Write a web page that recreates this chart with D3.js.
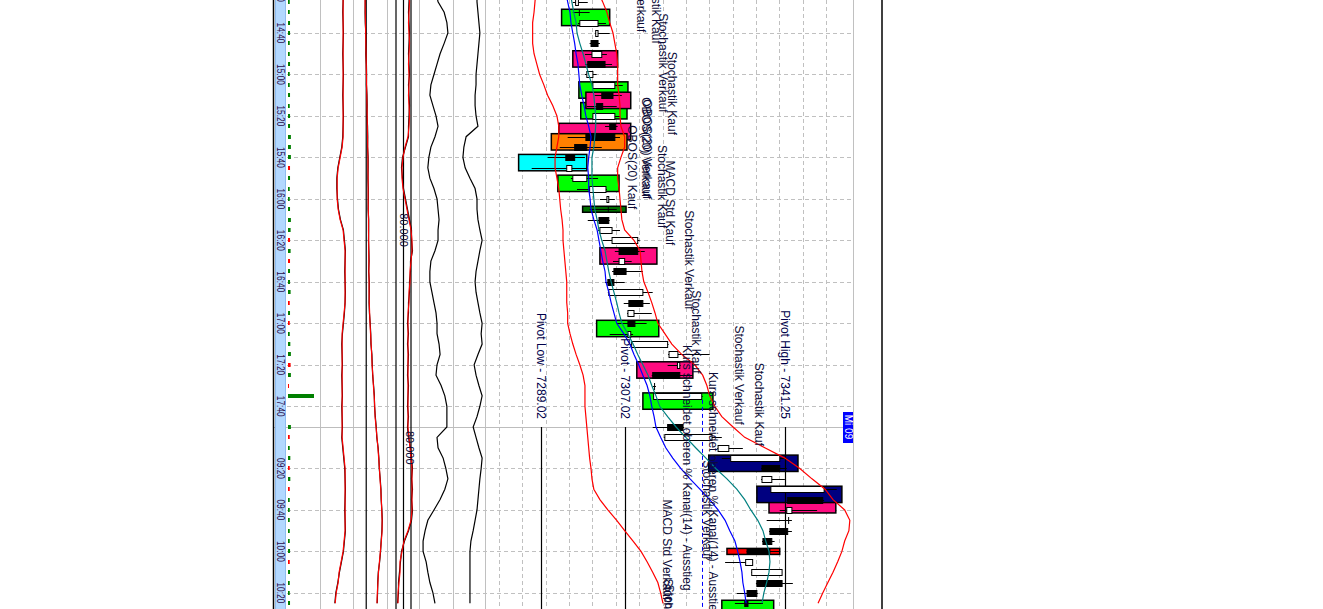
<!DOCTYPE html>
<html><head><meta charset="utf-8">
<script src="https://cdn.jsdelivr.net/npm/d3@7"></script>
<style>html,body{margin:0;padding:0;background:#fff;}svg{display:block;}</style>
</head><body>
<svg id="c" width="1323" height="609"></svg>
<script>
// ---------------- DATA ----------------
const timeline = ["14:20","14:25","14:30","14:35","14:40","14:45","14:50","14:55","15:00","15:05","15:10","15:15","15:20","15:25","15:30","15:35","15:40","15:45","15:50","15:55","16:00","16:05","16:10","16:15","16:20","16:25","16:30","16:35","16:40","16:45","16:50","16:55","17:00","17:05","17:10","17:15","17:20","17:25","17:30","17:35","17:40","17:45",
 "09:00","09:05","09:10","09:15","09:20","09:25","09:30","09:35","09:40","09:45","09:50","09:55","10:00","10:05","10:10","10:15","10:20","10:25","10:30","10:35"];
const tickLabels = ["14:20","14:40","15:00","15:20","15:40","16:00","16:20","16:40","17:00","17:20","17:40","09:20","09:40","10:00","10:20"];
const sessionStart = "09:00";
const dayLabel = "Mi 09";
const priceTicks = [7280,7285,7290,7295,7300,7305,7310,7315,7320,7325,7330,7335,7340,7345,7350];

const candleTimes = ["14:25","14:30","14:35","14:40","14:45","14:50","14:55","15:00","15:05","15:10","15:15","15:20","15:25","15:30","15:35","15:40","15:45","15:50","15:55","16:00","16:05","16:10","16:15","16:20","16:25","16:30","16:35","16:40","16:45","16:50","16:55","17:00","17:05","17:10","17:15","17:20","17:25","17:30","17:35",
 "09:00","09:05","09:10","09:15","09:20","09:25","09:30","09:35","09:40","09:45","09:50","09:55","10:00","10:05","10:10","10:15","10:20","10:25"];
const opens  = [7296.4,7297.4,7297.3,7300.7,7301.2,7299.9,7302.7,7298.8,7300.1,7304.4,7302.2,7300.1,7305.0,7304.8,7298.8,7296.2,7294.5,7295.8,7299.4,7303.1,7303.6,7303.5,7301.6,7304.2,7309.7,7305.7,7307.2,7304.6,7303.5,7310.8,7307.6,7309.1,7307.6,7308.4,7316.4,7318.2,7318.7,7313.3,7313.1,
 7319.4,7315.5,7326.9,7329.6,7340.1,7336.3,7338.2,7349.3,7341.6,7342.0,7341.8,7338.4,7338.0,7332.8,7334.1,7340.6,7335.2,7333.3];
const highs  = [7299.0,7299.4,7302.9,7303.7,7301.6,7303.1,7304.2,7300.9,7306.5,7306.3,7305.2,7305.9,7305.4,7305.9,7302.0,7298.4,7298.8,7301.2,7303.1,7304.8,7305.2,7303.7,7305.9,7310.1,7311.2,7308.4,7310.8,7306.9,7312.9,7312.3,7312.7,7311.6,7308.7,7316.3,7325.1,7318.9,7321.5,7313.6,7323.6,
 7319.6,7327.7,7332.2,7341.6,7341.6,7341.2,7352.3,7349.6,7348.1,7342.7,7342.7,7339.0,7340.1,7334.3,7340.6,7342.9,7335.4,7336.5];
const lows   = [7295.8,7295.8,7296.9,7300.5,7299.4,7298.4,7298.4,7298.4,7300.0,7300.5,7298.8,7300.0,7302.7,7294.7,7293.0,7290.4,7287.0,7295.4,7296.7,7301.6,7299.4,7299.0,7301.2,7302.2,7304.8,7304.4,7304.2,7302.7,7303.3,7306.7,7307.4,7305.2,7303.7,7308.0,7316.2,7316.1,7312.7,7312.9,7313.0,
 7312.9,7315.3,7326.7,7327.7,7336.1,7336.1,7338.0,7341.6,7340.1,7337.3,7337.8,7336.3,7333.0,7328.4,7334.0,7335.0,7330.9,7330.5];
const closes = [7297.0,7297.2,7301.2,7301.2,7299.7,7302.0,7299.0,7300.1,7304.8,7302.0,7300.9,7304.8,7303.7,7298.6,7296.2,7294.3,7295.6,7298.8,7302.9,7303.5,7303.4,7301.4,7304.2,7309.7,7305.7,7306.9,7304.6,7303.3,7310.8,7307.8,7308.9,7307.6,7308.2,7316.1,7318.3,7318.7,7312.9,7313.4,7323.4,
 7316.1,7325.6,7329.2,7340.1,7336.3,7338.4,7349.6,7341.8,7342.7,7342.1,7338.0,7336.5,7333.1,7334.3,7340.6,7335.2,7333.1,7332.6];
const volumes = [6000,6000,7000,7000,6000,6000,7000,6000,6000,7000,6000,7000,7000,10000,10000,10000,7000,7000,6000,6000,7000,10000,9000,7000,9000,7000,7000,7000,9000,6000,7000,6000,6000,8000,10000,9000,10000,3000,90000,
 10000,6000,6000,8000,6000,8000,6000,6000,6000,6000,6000,6000,7000,6000,7000,6000,6000,7000];
const volumeUp = [1,1,1,1,1,1,1,1,1,1,1,1,1,1,1,1,0,1,1,1,1,1,1,0,1,0,1,1,1,0,1,0,1,1,1,0,1,0,1,
 1,0,1,1,0,1,0,1,1,1,1,1,1,0,1,1,1,1];

// line series: 14:20 .. 10:25
const seriesTimes = timeline.slice(0, 60);
const maBlue = [7294.3,7294.7,7295.2,7295.4,7295.8,7296.2,7296.5,7296.9,7297.1,7297.3,7297.7,7298.2,7298.6,7299.2,7299.7,7299.5,7299.2,7299.0,7299.2,7299.2,7299.5,7299.7,7300.3,7301.0,7301.4,7301.8,7302.2,7302.7,7302.9,7303.5,7304.0,7304.6,7305.2,7306.7,7308.0,7308.9,7309.9,7310.8,7311.7,7312.3,7312.7,7313.2,7313.6,7314.6,7315.7,7317.2,7318.9,7320.9,7323.0,7325.1,7326.9,7328.4,7329.4,7330.5,7331.1,7331.6,7332.0,7332.2,7332.6,7332.9];
const maTeal = [7295.2,7295.6,7296.0,7296.5,7296.7,7297.3,7298.0,7298.6,7299.2,7299.9,7300.3,7300.5,7300.7,7300.7,7300.5,7300.3,7299.9,7299.9,7299.9,7300.1,7300.3,7300.5,7301.0,7301.4,7302.0,7302.7,7303.1,7303.5,7304.0,7304.6,7305.2,7305.7,7306.3,7307.6,7308.7,7309.7,7310.8,7311.9,7312.7,7313.6,7314.4,7316.1,7317.9,7320.0,7322.1,7324.3,7326.4,7328.8,7330.9,7332.6,7333.9,7335.4,7336.5,7337.1,7337.8,7338.0,7337.8,7337.3,7336.7,7336.3];
const bandUpper = [7301.2,7302.2,7303.1,7303.7,7304.4,7304.8,7305.2,7305.4,7305.4,7305.4,7305.7,7305.9,7305.9,7306.1,7306.9,7306.9,7306.1,7305.4,7305.4,7305.7,7305.9,7306.1,7306.3,7306.9,7308.9,7310.2,7310.4,7310.6,7311.0,7311.9,7312.7,7313.4,7314.0,7315.5,7317.0,7319.1,7321.9,7323.6,7324.5,7325.1,7326.2,7327.7,7330.1,7332.6,7336.9,7341.2,7344.4,7347.0,7349.8,7351.5,7354.0,7355.1,7354.9,7354.0,7353.4,7352.5,7351.5,7350.4,7349.3,7348.3];
const bandLower = [7287.9,7287.7,7287.5,7287.2,7287.2,7287.2,7287.5,7288.1,7288.7,7289.6,7290.4,7291.5,7292.4,7292.8,7292.8,7292.4,7292.0,7292.0,7292.4,7292.8,7293.0,7293.2,7293.5,7293.7,7293.7,7293.9,7294.1,7294.3,7294.5,7294.5,7294.5,7294.7,7294.7,7295.2,7295.8,7296.5,7297.3,7298.0,7298.4,7298.4,7298.4,7298.6,7298.8,7299.0,7299.2,7299.4,7299.7,7299.9,7300.3,7301.6,7303.3,7305.2,7306.9,7308.7,7310.4,7311.7,7312.9,7314.0,7314.6,7315.1];

// sub panels
const oscB_red   = [70,70,70,70,70,70,70,70,70,70,70,70,70,70,70,67,61,55,52,52,52,55,61,70,73,76,76,76,76,76,76,73,70,67,67,67,67,67,67,67,67,67,67,67,70,73,76,76,76,76,76,76,76,73,70,64,58,55,49,46];
const oscB_black = [71,70,69,70,71,70,69,70,71,70,69,70,71,70,69,66,60,54,51,51,53,56,62,71,74,77,76,75,76,77,76,74,71,68,66,67,68,66,67,68,66,67,68,66,69,72,75,76,77,76,75,76,77,74,71,65,59,54,48,45];
const oscC_red   = [-6,-6,-5,-4,-3,-2,-1,0,1,2,3,4,5,6,7,8,9,9,10,10,10,11,12,12,13,13,14,14,15,15,16,18,20,23,26,29,31,35,38,42,45,47,52,57,62,66,70,73,77,80,82,84,84,80,75,70,65,62,59,57];
const oscC_black = [-4,-5,-6,-5,-2,-1,-2,1,2,1,4,5,4,7,8,7,10,10,9,11,11,10,13,13,12,14,15,13,16,16,15,17,21,24,25,30,32,34,39,43,44,48,53,56,63,67,69,74,78,79,83,85,83,79,76,71,64,61,60,58];
const oscC_levels = [0];
const oscD_red   = [72,74,72,70,72,74,72,70,72,72,70,72,74,72,68,56,48,44,44,48,56,64,72,80,84,84,80,76,76,72,72,68,68,68,68,68,68,68,68,68,68,68,68,72,76,80,84,84,84,84,84,80,68,52,44,36,36,32,28,28];
const oscD_black = [74,72,70,72,74,72,70,72,74,70,72,74,72,70,70,58,46,42,46,50,58,66,74,82,82,86,78,78,74,74,70,70,66,70,66,70,68,66,70,68,66,70,66,70,78,82,86,82,86,82,86,82,70,54,42,38,34,30,30,26];
const oscD_levels = [20,50,80];
const oscD_labels = [["80.000",36,"16:15"],["80.000",60,"09:10"]];
const oscE = [50,56,74,82,85,74,62,53,44,35,32,41,50,56,47,35,29,26,32,44,53,56,59,56,56,47,35,32,32,38,44,50,53,53,59,62,53,50,65,76,82,82,82,53,56,71,79,85,76,62,44,26,18,12,12,21,26,32,41,47];
const oscF = [75,75,78,81,84,81,78,75,72,72,69,69,72,78,41,34,31,38,53,69,75,75,78,84,91,84,78,72,69,72,78,84,91,88,91,78,66,72,81,91,84,75,63,72,81,91,88,84,81,78,75,69,63,56,53,53,53,53,53,53];

// signal boxes: [from, to, low price, high price, kind]
const signalBoxes = [
 ["14:30","14:35",7293.4,7303.7,"buy"],
 ["14:50","14:55",7295.8,7305.4,"sell"],
 ["15:05","15:10",7297.1,7307.6,"buy"],
 ["15:15","15:20",7297.5,7307.4,"buy"],
 ["15:10","15:15",7298.6,7308.2,"sell"],
 ["15:25","15:30",7292.8,7308.2,"sell"],
 ["15:30","15:35",7291.2,7307.4,"obos"],
 ["15:40","15:45",7284.2,7298.8,"obosBuy"],
 ["15:50","15:55",7292.6,7305.7,"buy"],
 ["16:05","16:05",7297.9,7307.2,"macdBuy"],
 ["16:25","16:30",7301.6,7313.8,"sell"],
 ["17:00","17:05",7300.9,7314.2,"buy"],
 ["17:20","17:25",7309.5,7321.5,"sell"],
 ["17:35","17:40",7310.8,7325.8,"buy"],
 ["09:15","09:20",7324.9,7344.0,"exit"],
 ["09:35","09:40",7337.8,7352.1,"sell"],
 ["09:30","09:35",7335.2,7353.4,"exit"],
 ["10:00","10:00",7328.8,7340.1,"macdSell"],
 ["10:25","10:30",7327.7,7338.8,"buy"]
];
const boxColors = {buy:"#00ff00", sell:"#ff0c80", obos:"#ff8000", obosBuy:"#00ffff", macdBuy:"#007000", exit:"#000080", macdSell:"#ff0000"};

// signal texts: [text, price, slot (5-min steps from 14:40)]
const signalNotes = [
 ["Stochastik Verkauf",7309.5,-9.65],
 ["Stochastik Kauf",7312.7,-7.0],
 ["Stochastik Verkauf",7314.2,-1.9],
 ["Stochastik Kauf",7316.2,1.8],
 ["OBOS(20) Verkauf",7310.6,6.2],
 ["OBOS(20) Verkauf",7310.8,6.4],
 ["OBOS(20) Kauf",7307.6,8.9],
 ["Stochastik Kauf",7314.0,10.8],
 ["MACD Std Kauf",7315.7,12.3],
 ["Stochastik Verkauf",7319.8,17.1],
 ["Stochastik Kauf",7321.3,24.8],
 ["Kurs schneidet oberen % Kanal(14) - Ausstieg",7319.4,30.1],
 ["Kurs schneidet oberen % Kanal(14) - Ausstieg",7324.9,32.7],
 ["Stochastik Verkauf",7323.6,41.2],
 ["Stochastik Verkauf",7330.5,28.2],
 ["Stochastik Kauf",7334.8,31.8],
 ["MACD Std Verkauf",7315.1,45.0],
 ["Stochastik Verkauf",7315.3,52.6],
 ["Stochastik Kauf",7315.5,53.2]
];
const pivotNames  = ["Pivot Low","Pivot","Pivot High"];
const pivotValues = [7289.02,7307.02,7341.25];
const prevClose = 7323.4;

// ---------------- DRAW ----------------
const FONT = "'Liberation Sans', Arial, sans-serif";
const TXT = "#0c0c38";
const svg = d3.select("#c");
const slotOf = t => timeline.indexOf(t) - timeline.indexOf("14:40");
const y = d3.scaleLinear().domain([0, slotOf(sessionStart)]).range([33, 427]);
const yt = t => y(slotOf(t));
const x = d3.scaleLinear().domain([7280, 7350]).range([499, 826]);
const sc = {
  vol: d3.scaleLinear().domain([0, 90000]).range([288, 314]),
  B: d3.scaleLinear().domain([0, 100]).range([320, 353]),
  C: d3.scaleLinear().domain([-70, 110]).range([353, 387]),
  D: d3.scaleLinear().domain([-16, 112]).range([387, 419]),
  E: d3.scaleLinear().domain([0, 100]).range([419, 453]),
  F: d3.scaleLinear().domain([0, 100]).range([453, 485])
};
const H = 609, R = 853;

// horizontal dashed grid
svg.append("g").selectAll("line").data(tickLabels).join("line")
  .attr("x1", 287).attr("x2", R)
  .attr("y1", d => Math.round(yt(d)) + 0.5).attr("y2", d => Math.round(yt(d)) + 0.5)
  .attr("stroke", "#c0c0c0").attr("stroke-dasharray", "4,3");
// vertical dashed grid (price)
svg.append("g").selectAll("line").data(priceTicks).join("line")
  .attr("x1", d => Math.round(x(d)) + 0.5).attr("x2", d => Math.round(x(d)) + 0.5)
  .attr("y1", 0).attr("y2", H)
  .attr("stroke", "#c0c0c0").attr("stroke-dasharray", "4,3");
// panel separators
const seps = [sc.B.range()[0], sc.C.range()[0], sc.D.range()[0], sc.E.range()[0], sc.F.range()[0], sc.F.range()[1], R];
svg.append("g").selectAll("line").data(seps).join("line")
  .attr("x1", d => d + 0.5).attr("x2", d => d + 0.5).attr("y1", 0).attr("y2", H)
  .attr("stroke", "#c0c0c0");
// day separator
svg.append("line").attr("x1", 273).attr("x2", R).attr("y1", Math.round(yt(sessionStart)) + 0.5).attr("y2", Math.round(yt(sessionStart)) + 0.5)
  .attr("stroke", "#bdbdbd");

// outer lines
svg.append("line").attr("x1", 273.5).attr("x2", 273.5).attr("y1", 0).attr("y2", H).attr("stroke", "#000").attr("stroke-width", 1.5);
svg.append("line").attr("x1", 882).attr("x2", 882).attr("y1", 0).attr("y2", H).attr("stroke", "#000").attr("stroke-width", 1.5);

// time band
svg.append("rect").attr("x", 275.5).attr("y", -2).attr("width", 10).attr("height", H + 4)
  .attr("fill", "#b3d8ff").attr("stroke", "#8ebcf0");
svg.append("g").selectAll("text").data(tickLabels).join("text")
  .attr("transform", d => `translate(277,${yt(d)}) rotate(90)`)
  .attr("text-anchor", "middle").attr("font-family", FONT).attr("font-size", 11)
  .attr("textLength", 21).attr("lengthAdjust", "spacingAndGlyphs")
  .attr("fill", "#2a0a48").text(d => d);

// volume
svg.append("g").selectAll("rect").data(candleTimes).join("rect")
  .attr("x", sc.vol(0)).attr("y", d => Math.round(yt(d)) - 2)
  .attr("width", (d, i) => Math.max(1, sc.vol(volumes[i]) - sc.vol(0))).attr("height", 4)
  .attr("fill", (d, i) => volumeUp[i] ? "#008000" : "#ff0000");

// oscillator panels
function seriesLine(vals, scale, color, g) {
  const line = d3.line().x((d, i) => scale(d)).y((d, i) => yt(seriesTimes[i]));
  g.append("path").attr("d", line(vals)).attr("fill", "none").attr("stroke", color).attr("stroke-width", 1.2);
}
const gOsc = svg.append("g");
gOsc.selectAll("line.lc").data(oscC_levels).join("line").attr("class", "lc")
  .attr("x1", d => sc.C(d)).attr("x2", d => sc.C(d)).attr("y1", 0).attr("y2", H).attr("stroke", "#000").attr("stroke-width", 1.2);
gOsc.selectAll("line.ld").data(oscD_levels).join("line").attr("class", "ld")
  .attr("x1", d => sc.D(d)).attr("x2", d => sc.D(d)).attr("y1", 0).attr("y2", H).attr("stroke", "#000").attr("stroke-width", 1.2);
seriesLine(oscB_black, sc.B, "#000", gOsc);
seriesLine(oscB_red, sc.B, "#ff0000", gOsc);
seriesLine(oscC_black, sc.C, "#000", gOsc);
seriesLine(oscC_red, sc.C, "#ff0000", gOsc);
seriesLine(oscD_black, sc.D, "#000", gOsc);
seriesLine(oscD_red, sc.D, "#ff0000", gOsc);
seriesLine(oscE, sc.E, "#000", gOsc);
seriesLine(oscF, sc.F, "#000", gOsc);
gOsc.selectAll("text").data(oscD_labels).join("text")
  .attr("transform", d => `translate(${sc.D(d[1])},${yt(d[2])}) rotate(90)`)
  .attr("text-anchor", "middle").attr("font-family", FONT).attr("font-size", 11)
  .attr("fill", TXT).text(d => d[0]);

// signal boxes
svg.append("g").selectAll("rect").data(signalBoxes).join("rect")
  .attr("x", d => x(d[2])).attr("width", d => x(d[3]) - x(d[2]))
  .attr("y", d => yt(d[0]) - 3).attr("height", d => yt(d[1]) - yt(d[0]) + 6)
  .attr("fill", d => boxColors[d[4]]).attr("stroke", "#000").attr("stroke-width", 1.5);

// pivot lines and prev close
const pivY0 = yt(sessionStart);
svg.append("g").selectAll("line").data(pivotValues).join("line")
  .attr("x1", d => Math.round(x(d)) + 0.5).attr("x2", d => Math.round(x(d)) + 0.5)
  .attr("y1", pivY0).attr("y2", H).attr("stroke", "#000").attr("stroke-width", 1.2);
svg.append("line").attr("x1", Math.round(x(prevClose)) + 0.5).attr("x2", Math.round(x(prevClose)) + 0.5)
  .attr("y1", yt("17:35") + 4).attr("y2", H).attr("stroke", "#0000ff").attr("stroke-dasharray", "4,3");

// candles
const gC = svg.append("g");
candleTimes.forEach((t, i) => {
  const yc = Math.round(yt(t)) + 0.5;
  const o = opens[i], c = closes[i], h = highs[i], l = lows[i];
  gC.append("line").attr("x1", x(l)).attr("x2", x(h)).attr("y1", yc).attr("y2", yc).attr("stroke", "#000");
  const x0 = x(Math.min(o, c)), x1 = x(Math.max(o, c));
  if (x1 - x0 < 1.5) {
    gC.append("line").attr("x1", x0).attr("x2", x0).attr("y1", yc - 3.5).attr("y2", yc + 3.5).attr("stroke", "#000");
  } else {
    gC.append("rect").attr("x", x0).attr("y", yc - 3).attr("width", x1 - x0).attr("height", 6)
      .attr("fill", c >= o ? "#fff" : "#000").attr("stroke", "#000");
  }
});

// overlays
seriesLine(bandLower, x, "#ff0000", svg);
seriesLine(bandUpper, x, "#ff0000", svg);
seriesLine(maBlue, x, "#0000ff", svg);
seriesLine(maTeal, x, "#008080", svg);

// signal texts
svg.append("g").selectAll("text").data(signalNotes).join("text")
  .attr("transform", d => `translate(${x(d[1])},${y(d[2])}) rotate(90)`)
  .attr("font-family", FONT).attr("font-size", 12).attr("fill", TXT).text(d => d[0]);
// pivot texts
svg.append("g").selectAll("text").data(pivotValues).join("text")
  .attr("transform", d => `translate(${x(d) - 4},${pivY0 - 8}) rotate(90)`)
  .attr("text-anchor", "end").attr("font-family", FONT).attr("font-size", 12).attr("fill", "#00004a")
  .text((d, i) => `${pivotNames[i]} - ${d3.format(".2f")(d)}`);

// day label
const dl = svg.append("g").attr("transform", `translate(${R - 10},${yt(sessionStart)})`);
dl.append("rect").attr("x", 0).attr("y", -15).attr("width", 10).attr("height", 31).attr("fill", "#0000ff");
dl.append("text").attr("transform", "translate(1.5,0) rotate(90)").attr("text-anchor", "middle")
  .attr("font-family", FONT).attr("font-size", 10).attr("fill", "#fff").text(dayLabel);
</script>
</body></html>
